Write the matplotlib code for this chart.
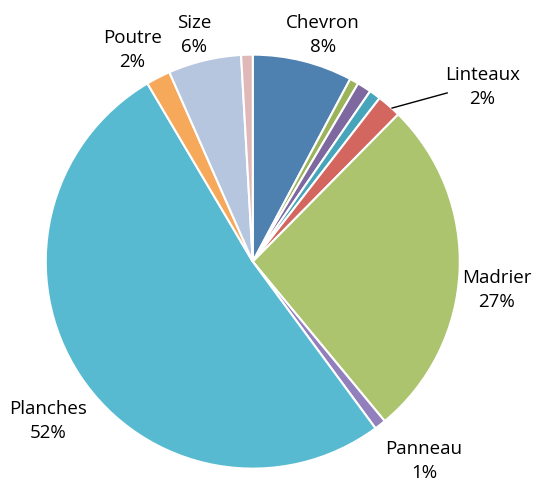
import matplotlib.pyplot as plt

plt.rcParams['font.family'] = ['Open Sans', 'DejaVu Sans']

# slices, clockwise from 12 o'clock
names = ['Chevron', '', '', '', 'Linteaux', 'Madrier', 'Panneau', 'Planches', 'Poutre', 'Size', '']
values = [7.8, 0.7, 1.1, 0.9, 1.9, 26.6, 0.9, 51.6, 1.9, 5.7, 0.9]
colors = ['#4e80b0', '#9bb35a', '#7d68a0', '#46a5ba', '#d3665f', '#abc46d',
          '#9280bd', '#58bad1', '#f6a85b', '#b6c6df', '#e0b8b7']

# label placement (data coords, pie radius = 1)
label_pos = {
    'Chevron': (0.34, 1.095),
    'Size': (-0.284, 1.095),
    'Poutre': (-0.583, 1.023),
    'Linteaux': (1.108, 0.844),
    'Madrier': (1.179, -0.137),
    'Panneau': (0.827, -0.963),
    'Planches': (-0.989, -0.769),
}

fig = plt.figure(figsize=(5.43, 4.8), dpi=100)
ax = fig.add_axes([0, 0, 1, 1])

ax.pie(values, colors=colors, startangle=90, counterclock=False, radius=1,
       wedgeprops=dict(edgecolor='white', linewidth=1.5))

total = sum(values)
for name, v in zip(names, values):
    if not name:
        continue
    x, y = label_pos[name]
    ax.text(x, y, f'{name}\n{v / total * 100:.0f}%', ha='center', va='center',
            fontsize=13.5, linespacing=1.45, color='black')

# leader line for Linteaux
ax.plot([0.673, 0.939], [0.742, 0.815], color='black', lw=1)

ax.set_aspect('auto')
ax.set_xlim(-1.221, 1.402)
ax.set_ylim(-1.055, 1.264)
ax.axis('off')

fig.savefig('out.png', dpi=100)
